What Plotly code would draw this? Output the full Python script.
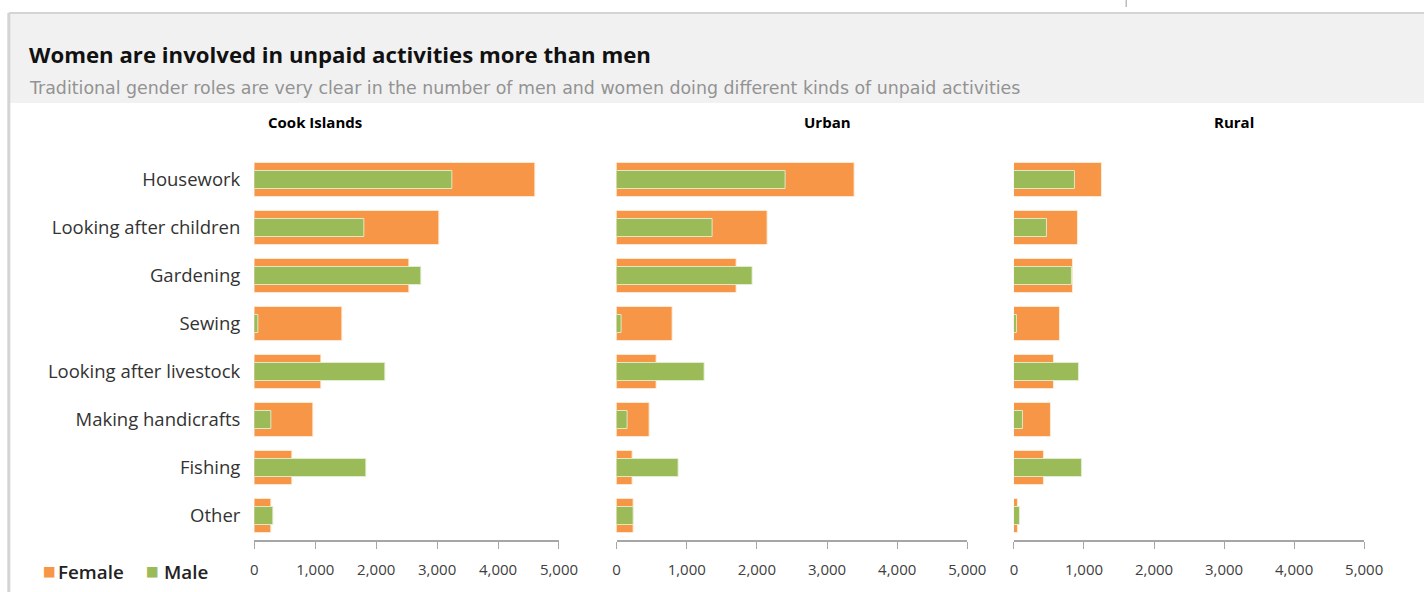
import plotly.graph_objects as go

W, H = 1445, 592

activities = ["Housework", "Looking after children", "Gardening", "Sewing",
              "Looking after livestock", "Making handicrafts", "Fishing", "Other"]

cook_female = [4610, 3035, 2540, 1440, 1100, 965, 630, 285]
cook_male = [3245, 1810, 2745, 70, 2145, 285, 1835, 315]

urban_female = [3390, 2157, 1705, 795, 567, 476, 229, 245]
urban_male = [2410, 1362, 1933, 71, 1252, 162, 886, 245]

rural_female = [1250, 915, 843, 661, 566, 523, 431, 63]
rural_male = [868, 474, 825, 43, 934, 135, 977, 87]

panel_titles = ["Cook Islands", "Urban", "Rural"]
tick_vals = [0, 1000, 2000, 3000, 4000, 5000]
tick_text = ["0", "1,000", "2,000", "3,000", "4,000", "5,000"]

ORANGE = "#F79646"
GREEN = "#9BBB59"
FONT = "Open Sans"


def px(x):
    # horizontal page position -> paper fraction
    return ((x - 5.2) / 0.982) / W


def py(y):
    return 1 - y / H


panels = [
    (cook_female, cook_male, (255, 559)),
    (urban_female, urban_male, (616.5, 966.5)),
    (rural_female, rural_male, (1013, 1362.5)),
]

fig = go.Figure()
y_dom = [py(540), py(156)]

for i, (fem, mal, (x0, x1)) in enumerate(panels):
    n = "" if i == 0 else str(i + 1)
    fig.add_trace(go.Bar(
        y=activities, x=fem, orientation="h", name="Female",
        marker=dict(color=ORANGE, line=dict(color="rgba(255,235,215,0.9)", width=1)),
        width=0.69, showlegend=False,
        xaxis="x" + n, yaxis="y" + n,
    ))
    fig.add_trace(go.Bar(
        y=activities, x=mal, orientation="h", name="Male",
        marker=dict(color=GREEN, line=dict(color="rgba(225,240,210,0.9)", width=1)),
        width=0.36, showlegend=False,
        xaxis="x" + n, yaxis="y" + n,
    ))
    fig.layout["xaxis" + n] = dict(
        domain=[px(x0), px(x1)], range=[0, 5000], anchor="y" + n,
        tickvals=tick_vals, ticktext=tick_text, ticks="outside", ticklen=7,
        tickcolor="#a6a6a6", showline=True, linecolor="#a6a6a6", linewidth=2,
        showgrid=False, zeroline=False, ticklabelstandoff=8,
        tickfont=dict(family=FONT, size=15, color="#404040"), fixedrange=True,
    )
    fig.layout["yaxis" + n] = dict(
        domain=y_dom, anchor="x" + n, categoryorder="array",
        categoryarray=activities, autorange="reversed",
        showticklabels=(i == 0), showgrid=False, showline=False, zeroline=False,
        ticks="", ticklabelstandoff=13,
        tickfont=dict(family=FONT, size=18.5, color="#333333"), fixedrange=True,
    )

# Panel headings
for title, cx in zip(panel_titles, [316, 827, 1233]):
    fig.add_annotation(
        text="<b>" + title + "</b>", x=px(cx), y=py(122), xref="paper", yref="paper",
        xanchor="center", yanchor="middle", showarrow=False,
        font=dict(family=FONT, size=15, color="#000000"),
    )

# Legend keys: coloured square plus label
for label, color, sq_x, tx_x in [("Female", ORANGE, 42, 57), ("Male", GREEN, 145, 163)]:
    fig.add_annotation(
        text="■", x=px(sq_x), y=py(571), xref="paper", yref="paper",
        xanchor="left", yanchor="middle", showarrow=False,
        font=dict(family="DejaVu Sans", size=13.5, color=color),
    )
    fig.add_annotation(
        text=label, x=px(tx_x), y=py(572), xref="paper", yref="paper",
        xanchor="left", yanchor="middle", showarrow=False,
        font=dict(family=FONT, size=18.8, color="#222222", weight=600),
    )

# Header band and frame
fig.add_shape(type="rect", xref="paper", yref="paper", x0=px(11), x1=1, y0=py(103), y1=py(14),
              fillcolor="#f1f1f1", line=dict(width=0), layer="below")
fig.add_shape(type="line", xref="paper", yref="paper", x0=px(10), x1=1, y0=py(13), y1=py(13),
              line=dict(color="#d4d4d4", width=2))
fig.add_shape(type="line", xref="paper", yref="paper", x0=px(10), x1=px(10), y0=0, y1=py(13),
              line=dict(color="#d4d4d4", width=3))
fig.add_shape(type="line", xref="paper", yref="paper", x0=px(1125), x1=px(1125), y0=py(0), y1=py(7),
              line=dict(color="#9a9a9a", width=1))

fig.add_annotation(
    text="<b>Women are involved in unpaid activities more than men</b>",
    x=px(28.5), y=py(55), xref="paper", yref="paper", xanchor="left", yanchor="middle",
    showarrow=False, font=dict(family=FONT, size=22.2, color="#111111"),
)
fig.add_annotation(
    text="Traditional gender roles are very clear in the number of men and women doing different kinds of unpaid activities",
    x=px(28), y=py(88), xref="paper", yref="paper", xanchor="left", yanchor="middle",
    showarrow=False, font=dict(family="DejaVu Sans", size=17.4, color="#939393"),
)

fig.update_layout(
    width=W, height=H, margin=dict(l=0, r=0, t=0, b=0),
    paper_bgcolor="white", plot_bgcolor="white", barmode="overlay",
    bargap=0, showlegend=False,
)

fig.write_html("out.html")
